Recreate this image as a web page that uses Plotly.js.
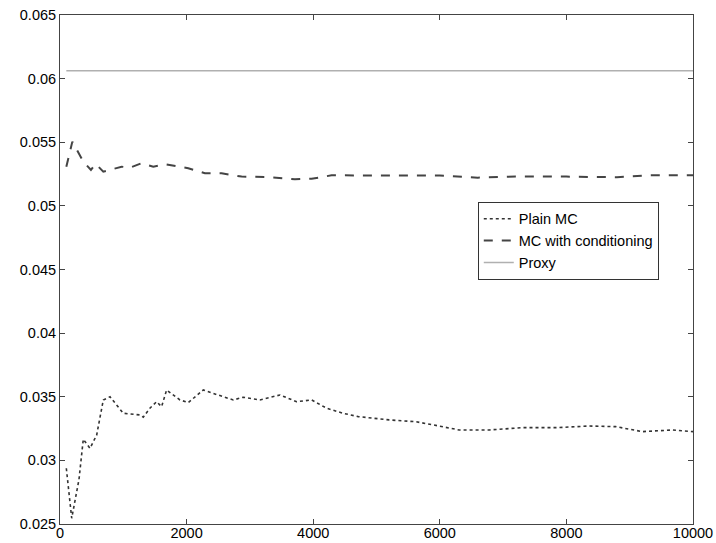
<!DOCTYPE html>
<html>
<head>
<meta charset="utf-8">
<script src="https://cdn.plot.ly/plotly-3.0.1.min.js"></script>
<style>html,body{margin:0;padding:0;background:#fff;}#chart{width:716px;height:543px;}</style>
</head>
<body>
<div id="chart"></div>
<script>
const plainX = [100,185,300,368,474,580,684,790,1000,1263,1316,1420,1526,1605,1684,1895,2026,2263,2526,2737,2895,3158,3474,3737,3974,4211,4474,4711,5200,5621,5989,6305,6779,7305,7832,8358,8779,9200,9674,10000];
const plainY = [0.02938,0.02545,0.0285,0.03166,0.03095,0.0320,0.03475,0.035,0.0337,0.03357,0.0334,0.0341,0.03461,0.03422,0.03553,0.03475,0.03454,0.03553,0.03509,0.03475,0.03496,0.03475,0.03514,0.03461,0.03475,0.0341,0.0337,0.03344,0.03318,0.03304,0.0327,0.03239,0.03239,0.03257,0.03257,0.0327,0.03265,0.03226,0.03239,0.03226];
const condX = [100,195,368,489,563,684,974,1105,1290,1474,1658,2026,2290,2553,2869,3290,3711,3974,4290,4658,5079,5500,6000,6600,7200,8000,8800,9300,10000];
const condY = [0.05308,0.05505,0.05348,0.05283,0.0533,0.05269,0.05308,0.053,0.05335,0.05308,0.05327,0.05296,0.05256,0.05256,0.0523,0.05226,0.05209,0.05213,0.0524,0.0524,0.05235,0.0524,0.05238,0.05222,0.0523,0.0523,0.05225,0.0524,0.0524];
const proxyX = [100,10000];
const proxyY = [0.06062,0.06062];
const names = ["Plain MC","MC with conditioning","Proxy"];
const xTicks = [0,2000,4000,6000,8000,10000];
const yTicks = [0.025,0.03,0.035,0.04,0.045,0.05,0.055,0.06,0.065];

const fontFam = 'Liberation Sans, Arial, sans-serif';
const traces = [
  {x: plainX, y: plainY, name: names[0], mode: 'lines', line: {color: '#333', width: 1.6, dash: 'dot'}},
  {x: condX, y: condY, name: names[1], mode: 'lines', line: {color: '#444', width: 2, dash: 'dash'}},
  {x: proxyX, y: proxyY, name: names[2], mode: 'lines', line: {color: '#b0b0b0', width: 1.5}}
];
const axisCommon = {
  showline: true, linecolor: '#444', linewidth: 1, mirror: 'ticks',
  ticks: 'inside', ticklen: 5, tickcolor: '#444', showgrid: false, zeroline: false,
  tickfont: {family: fontFam, size: 14.5, color: '#000'}
};
const layout = {
  width: 716, height: 543,
  margin: {l: 60, r: 23, t: 15, b: 19},
  paper_bgcolor: '#fff', plot_bgcolor: '#fff',
  showlegend: true,
  legend: {x: 0.66, y: 0.633, xanchor: 'left', yanchor: 'top', bordercolor: '#333', borderwidth: 1,
    bgcolor: '#fff', font: {family: fontFam, size: 14.5, color: '#000'},
    tracegroupgap: 0, itemwidth: 30},
  xaxis: Object.assign({}, axisCommon, {range: [0, 10000], tickvals: xTicks, ticktext: xTicks.map(String), ticklabelstandoff: -4}),
  yaxis: Object.assign({}, axisCommon, {range: [0.025, 0.065], tickvals: yTicks, ticktext: yTicks.map(v => String(v))})
};
Plotly.newPlot('chart', traces, layout, {displayModeBar: false, staticPlot: true});
</script>
</body>
</html>
